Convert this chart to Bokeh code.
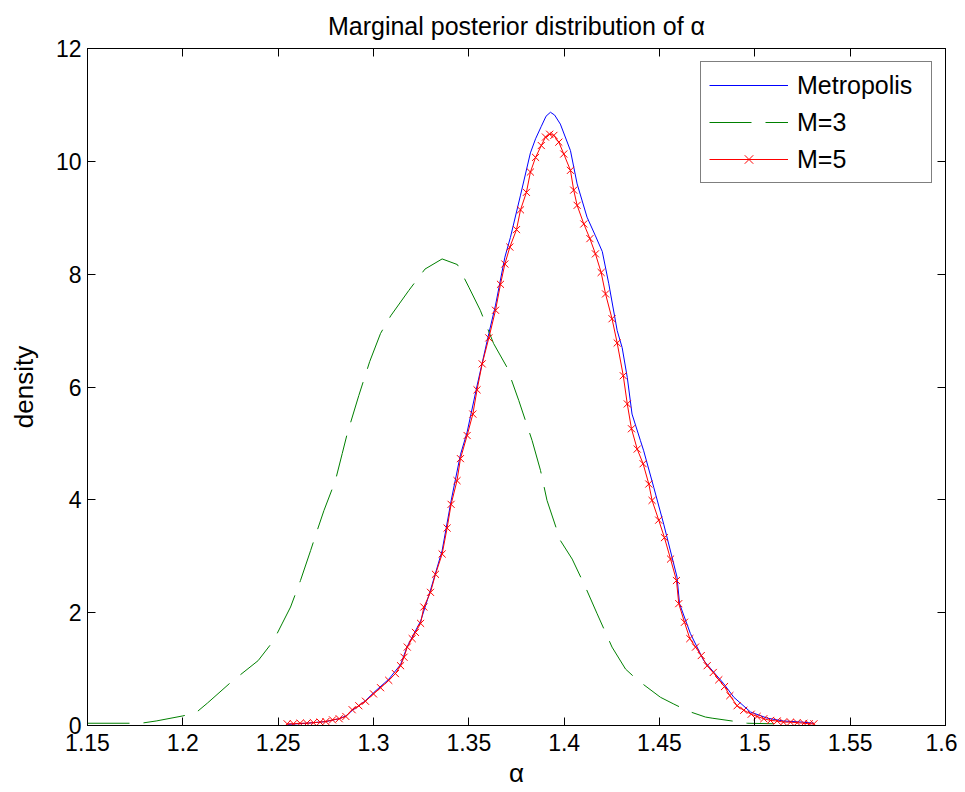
from bokeh.plotting import figure
from bokeh.models import Range1d, LinearAxis, FixedTicker, CustomJSTickFormatter, Legend, LegendItem
from bokeh.embed import file_html
from bokeh.resources import INLINE

# ---- data ----
metro_x = [1.255, 1.265, 1.275, 1.282, 1.2855, 1.289, 1.2958, 1.300, 1.308, 1.3142,
           1.3177, 1.3247, 1.3299, 1.336, 1.3407, 1.3456, 1.3491, 1.3543, 1.3605, 1.364,
           1.3689, 1.3718, 1.3771, 1.3823, 1.385, 1.388, 1.3905, 1.3928, 1.395, 1.398,
           1.4033, 1.4068, 1.412, 1.4164, 1.42, 1.4234, 1.4278, 1.4304, 1.4331, 1.4356,
           1.44, 1.4417, 1.447, 1.4522, 1.4592, 1.4605, 1.4662, 1.4732, 1.4837, 1.489,
           1.4977, 1.5065, 1.515, 1.525, 1.531]
metro_y = [0.02, 0.04, 0.07, 0.12, 0.17, 0.27, 0.44, 0.58, 0.82, 1.08,
           1.40, 1.85, 2.40, 3.10, 3.98, 4.80, 5.20, 6.02, 6.95, 7.45,
           8.30, 8.65, 9.40, 10.15, 10.40, 10.62, 10.80, 10.87, 10.82, 10.66,
           10.19, 9.60, 9.01, 8.68, 8.40, 7.83, 7.00, 6.70, 6.17, 5.52,
           5.05, 4.87, 4.22, 3.57, 2.63, 2.16, 1.63, 1.15, 0.74, 0.50,
           0.24, 0.13, 0.08, 0.06, 0.04]

m3_x = [1.150, 1.178, 1.186, 1.200, 1.207, 1.213, 1.225, 1.2395, 1.2475, 1.252,
        1.2565, 1.2617, 1.267, 1.2705, 1.274, 1.280, 1.2836, 1.2862, 1.2923, 1.298,
        1.3037, 1.309, 1.3185, 1.327, 1.336, 1.344, 1.350, 1.356, 1.363, 1.370,
        1.3762, 1.3832, 1.3876, 1.391, 1.398, 1.4042, 1.4112, 1.4173, 1.4251, 1.4322,
        1.4383, 1.4505, 1.4575, 1.4654, 1.4741, 1.4776, 1.488, 1.496, 1.510]
m3_y = [0.04, 0.04, 0.08, 0.17, 0.23, 0.40, 0.76, 1.15, 1.50, 1.80,
        2.10, 2.57, 3.10, 3.46, 3.81, 4.34, 4.82, 5.17, 5.85, 6.45,
        6.95, 7.26, 7.71, 8.09, 8.27, 8.17, 7.77, 7.36, 6.77, 6.35,
        5.76, 5.05, 4.52, 3.99, 3.28, 2.95, 2.45, 1.98, 1.39, 1.00,
        0.81, 0.50, 0.38, 0.25, 0.15, 0.13, 0.08, 0.04, 0.03]

m5_x = [1.2547, 1.258, 1.2615, 1.265, 1.2685, 1.272, 1.275, 1.2785, 1.282, 1.2855,
        1.2888, 1.2923, 1.2958, 1.300, 1.3037, 1.308, 1.3115, 1.3142, 1.316, 1.3177,
        1.3203, 1.322, 1.3247, 1.3264, 1.3299, 1.3325, 1.336, 1.3386, 1.3407, 1.3438,
        1.3456, 1.3491, 1.3521, 1.3543, 1.357, 1.3605, 1.364, 1.3666, 1.3689, 1.3715,
        1.375, 1.3771, 1.3802, 1.3823, 1.385, 1.388, 1.3902, 1.3924, 1.3946, 1.3972,
        1.3998, 1.4033, 1.405, 1.4068, 1.4103, 1.4135, 1.4164, 1.4194, 1.4217, 1.4251,
        1.4278, 1.431, 1.4331, 1.4353, 1.4383, 1.4414, 1.4444, 1.4461, 1.4496, 1.4526,
        1.4558, 1.4589, 1.4601, 1.4631, 1.4659, 1.4689, 1.4719, 1.475, 1.4782, 1.4811,
        1.4841, 1.4869, 1.4907, 1.4942, 1.4981, 1.5012, 1.5047, 1.5082, 1.5117, 1.515,
        1.5187, 1.5222, 1.5257, 1.5285, 1.531]
m5_y = [0.03, 0.03, 0.04, 0.04, 0.05, 0.06, 0.07, 0.10, 0.12, 0.16,
        0.28, 0.35, 0.43, 0.56, 0.67, 0.80, 0.92, 1.06, 1.21, 1.39,
        1.54, 1.65, 1.81, 2.10, 2.36, 2.68, 3.04, 3.50, 3.92, 4.34,
        4.73, 5.14, 5.52, 5.95, 6.41, 6.87, 7.36, 7.82, 8.18, 8.48,
        8.79, 9.14, 9.45, 9.81, 10.07, 10.28, 10.43, 10.48, 10.46, 10.34,
        10.13, 9.84, 9.49, 9.22, 8.89, 8.63, 8.36, 8.03, 7.65, 7.21,
        6.78, 6.20, 5.70, 5.26, 4.90, 4.64, 4.28, 3.99, 3.64, 3.33,
        2.95, 2.57, 2.16, 1.83, 1.54, 1.39, 1.24, 1.06, 0.94, 0.81,
        0.69, 0.53, 0.35, 0.27, 0.20, 0.16, 0.12, 0.09, 0.08, 0.06,
        0.06, 0.05, 0.04, 0.03, 0.03]

x_ticks = [1.15, 1.2, 1.25, 1.3, 1.35, 1.4, 1.45, 1.5, 1.55, 1.6]
y_ticks = [0, 2, 4, 6, 8, 10, 12]
series_names = ["Metropolis", "M=3", "M=5"]

FONT = "Liberation Sans"

p = figure(width=957, height=792, output_backend="svg", toolbar_location=None,
           x_range=Range1d(1.15, 1.6), y_range=Range1d(0, 12),
           min_border_left=87, min_border_right=12, min_border_top=48, min_border_bottom=67,
           x_axis_label="α", y_axis_label="density",
           title="Marginal posterior distribution of α")
p.grid.visible = False
p.outline_line_color = "black"
p.outline_line_width = 1
p.background_fill_color = "white"
p.border_fill_color = "white"

p.title.align = "center"
p.title.text_font = FONT
p.title.text_font_size = "25px"
p.title.text_font_style = "normal"
p.title.text_color = "black"
p.title.standoff = 18

fmt = CustomJSTickFormatter(code="var s = tick.toFixed(2); if (s.endsWith('0')) { s = s.slice(0, -1); } return s;")

def style_axis(ax, labels=True):
    ax.major_tick_in = 8
    ax.major_tick_out = 0
    ax.minor_tick_line_color = None
    ax.axis_line_color = "black"
    ax.major_tick_line_color = "black"
    ax.major_label_text_font = FONT
    ax.major_label_text_font_size = "23px" if labels else "1px"
    ax.major_label_text_color = "black" if labels else None
    ax.axis_label_text_font = FONT
    ax.axis_label_text_font_size = "26px"
    ax.axis_label_text_font_style = "normal"
    ax.axis_label_text_color = "black"

p.xaxis.ticker = FixedTicker(ticks=x_ticks)
p.xaxis.formatter = fmt
p.yaxis.ticker = FixedTicker(ticks=y_ticks)
style_axis(p.xaxis[0])
style_axis(p.yaxis[0])
p.xaxis.major_label_standoff = 8
p.yaxis.major_label_standoff = 6
p.xaxis.axis_label_standoff = 4
p.yaxis.axis_label_standoff = 14

top_ax = LinearAxis(ticker=FixedTicker(ticks=x_ticks), major_label_standoff=0)
style_axis(top_ax, labels=False)
p.add_layout(top_ax, "above")
right_ax = LinearAxis(ticker=FixedTicker(ticks=y_ticks), major_label_standoff=0)
style_axis(right_ax, labels=False)
p.add_layout(right_ax, "right")

r_metro = p.line(metro_x, metro_y, line_color="#0000ff", line_width=1)
r_m3 = p.line(m3_x, m3_y, line_color="#008000", line_width=1, line_dash="42 14")
r_m5 = p.line(m5_x, m5_y, line_color="#ff0000", line_width=1)
r_m5s = p.scatter(m5_x, m5_y, marker="x", size=10, line_color="#ff0000", line_width=1)

legend = Legend(items=[LegendItem(label=series_names[0], renderers=[r_metro]),
                       LegendItem(label=series_names[1], renderers=[r_m3]),
                       LegendItem(label=series_names[2], renderers=[r_m5, r_m5s])],
                location=(613, 542), orientation="vertical")
legend.label_text_font = FONT
legend.label_text_font_size = "25px"
legend.label_text_color = "black"
legend.glyph_width = 79
legend.glyph_height = 30
legend.label_height = 30
legend.label_width = 126
legend.label_standoff = 9
legend.spacing = 7
legend.padding = 8
legend.margin = 0
legend.border_line_color = "black"
legend.border_line_width = 1
legend.background_fill_color = "white"
legend.background_fill_alpha = 1
p.add_layout(legend, "center")

open("out.html", "w").write(file_html(p, INLINE))
